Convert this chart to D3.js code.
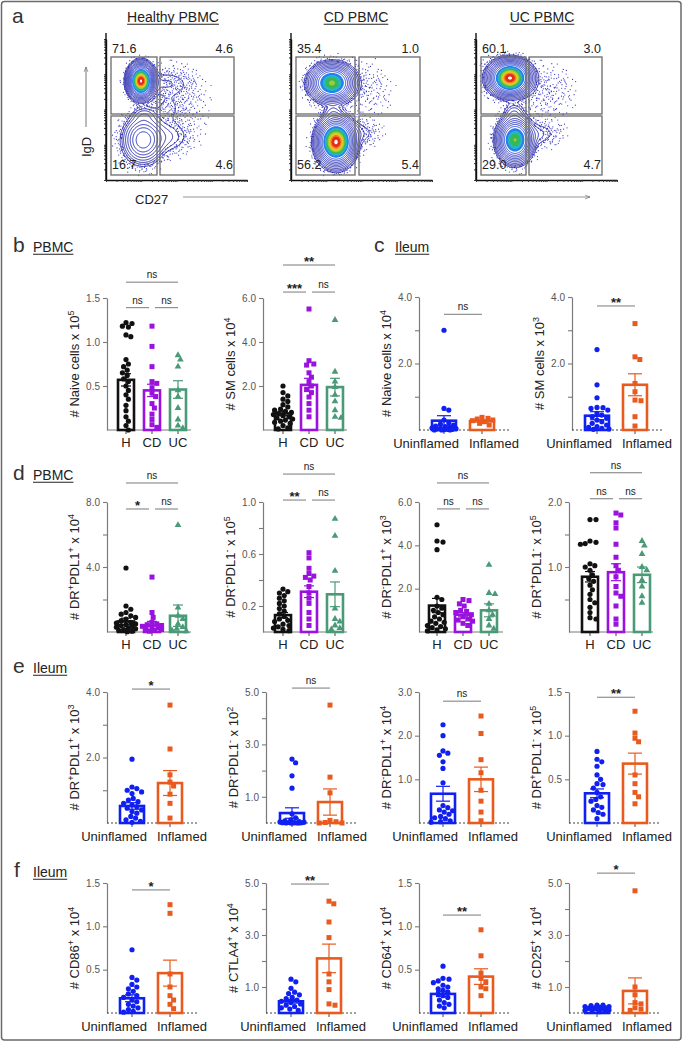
<!DOCTYPE html>
<html><head><meta charset="utf-8">
<script src="https://cdn.jsdelivr.net/npm/d3@7"></script>
<style>body{margin:0;background:#fff}svg{display:block}text{font-family:"Liberation Sans",Arial,sans-serif}</style>
</head><body><svg id="chart" width="684" height="1043"></svg>
<script>
// ---------------- DATA ----------------
const flowTitles = ["Healthy PBMC", "CD PBMC", "UC PBMC"];
const gatePercents = [["71.6","4.6","16.7","4.6"],["35.4","1.0","56.2","5.4"],["60.1","3.0","29.0","4.7"]];
// density populations [cx, cy, sx, sy, weight] (plot-relative units)
const healthyClusters = [[35,48,5.5,7.5,1.0],[38,82,7,5,0.02],[37,107,9.5,11,0.16],[58,50,16,8,0.013],[60,76,10,10,0.008],[60,104,13,9,0.02],[75,70,16,22,0.004]];
const cdClusters = [[41,50,9.5,8,0.64],[42,80,6,5,0.02],[45,109,8,10,1.0],[64,100,13,7,0.016],[75,55,16,16,0.004]];
const ucClusters = [[34,45,9,7.5,1.0],[38,80,6,6,0.025],[39,107,7.5,9.5,0.62],[60,101,13,7,0.016],[70,60,16,16,0.005]];
const levelFractions = [0.009,0.014,0.02,0.03,0.045,0.065,0.09,0.125,0.17,0.23,0.32,0.42,0.52,0.62,0.72,0.82,0.9,0.96];

const pbmcGroups = ["H","CD","UC"];
const ileumGroups = ["Uninflamed","Inflamed"];

const b1Points = [[1.22,1.21,1.18,1.17,1.08,1.06,0.80,0.75,0.72,0.68,0.65,0.62,0.58,0.55,0.50,0.45,0.40,0.35,0.28,0.22,0.15,0.10,0.05,0.0],
  [1.18,0.95,0.72,0.55,0.53,0.48,0.42,0.38,0.30,0.25,0.18,0.12,0.06,0.03],
  [0.85,0.80,0.72,0.45,0.38,0.25,0.12,0.05,0.02]];
const b1Mean = [0.57,0.45,0.46], b1Sem = [0.07,0.07,0.10];
const b2Points = [[2.0,1.7,1.55,1.4,1.3,1.15,1.05,0.95,0.9,0.85,0.8,0.75,0.7,0.65,0.6,0.55,0.5,0.45,0.4,0.35,0.3,0.2,0.1,0.05],
  [5.5,3.15,3.0,2.95,2.6,2.4,2.2,2.0,1.85,1.7,1.5,1.2,0.9,0.6],
  [5.0,2.65,2.2,1.95,1.6,1.3,0.9,0.6,0.55]];
const b2Mean = [0.75,2.05,1.95], b2Sem = [0.1,0.3,0.4];
const c1Points = [[3.0,0.65,0.6,0.3,0.22,0.18,0.15,0.12,0.1,0.08,0.06,0.05,0.04,0.03,0.02,0.02,0.01,0.0,0.0,0.0],
  [0.38,0.35,0.33,0.3,0.28,0.25,0.2,0.15]];
const c1Mean = [0.28,0.27], c1Sem = [0.15,0.03];
const c2Points = [[2.42,1.36,0.97,0.68,0.67,0.65,0.6,0.5,0.45,0.4,0.35,0.3,0.25,0.2,0.15,0.1,0.08,0.05,0.03,0.02],
  [3.2,2.2,2.12,1.4,1.15,0.9,0.88,0.4,0.12]];
const c2Mean = [0.43,1.36], c2Sem = [0.12,0.33];
const d1Points = [[3.94,1.6,1.4,1.2,1.1,1.0,0.9,0.8,0.7,0.6,0.55,0.5,0.45,0.4,0.35,0.3,0.25,0.2,0.15,0.1,0.05,0.02],
  [3.38,1.2,0.9,0.6,0.5,0.45,0.4,0.35,0.3,0.25,0.2,0.15,0.1,0.05],
  [6.58,1.5,1.0,0.8,0.5,0.3,0.2,0.1,0.05]];
const d1Mean = [0.65,0.4,1.0], d1Sem = [0.2,0.25,0.66];
const d2Points = [[0.33,0.31,0.30,0.28,0.26,0.24,0.22,0.20,0.18,0.16,0.14,0.12,0.10,0.09,0.08,0.06,0.05,0.04,0.03,0.02,0.01],
  [0.61,0.57,0.49,0.45,0.43,0.42,0.40,0.35,0.30,0.26,0.22,0.15,0.10,0.05],
  [0.87,0.74,0.47,0.18,0.10,0.08,0.05,0.03,0.02]];
const d2Mean = [0.13,0.31,0.29], d2Sem = [0.02,0.045,0.095];
const d3Points = [[4.95,4.2,4.15,3.8,1.6,1.5,1.2,1.1,1.0,0.9,0.8,0.7,0.6,0.5,0.45,0.4,0.3,0.25,0.2,0.15,0.1,0.05],
  [1.5,1.45,1.3,1.2,1.0,0.95,0.9,0.8,0.7,0.6,0.55,0.5,0.4,0.3],
  [3.1,1.8,1.75,1.3,1.0,0.8,0.6,0.3,0.15]];
const d3Mean = [1.22,0.8,1.0], d3Sem = [0.33,0.1,0.3];
const d4Points = [[1.73,1.73,1.4,1.38,1.36,1.35,1.05,1.02,1.0,0.95,0.88,0.82,0.78,0.72,0.65,0.58,0.5,0.45,0.38,0.3,0.22,0.2],
  [1.83,1.8,1.68,1.6,1.35,1.15,1.02,0.95,0.85,0.7,0.6,0.55,0.4,0.2,0.12],
  [1.4,1.33,1.2,1.0,0.95,0.8,0.7,0.55,0.45]];
const d4Mean = [0.85,0.92,0.88], d4Sem = [0.08,0.13,0.12];
const e1Points = [[1.95,1.1,1.05,1.0,0.95,0.9,0.75,0.7,0.65,0.6,0.55,0.5,0.45,0.4,0.35,0.3,0.2,0.15,0.1,0.05,0.02],
  [3.6,2.26,1.47,1.25,1.13,0.88,0.6,0.15]];
const e1Mean = [0.52,1.22], e1Sem = [0.1,0.38];
const e2Points = [[2.44,2.3,1.8,1.33,0.35,0.2,0.12,0.08,0.05,0.04,0.03,0.02,0.02,0.01,0.01,0.0,0.0,0.0,0.0,0.0],
  [4.5,1.75,1.15,0.1,0.05,0.02,0.0,0.0]];
const e2Mean = [0.38,0.8], e2Sem = [0.2,0.5];
const e3Points = [[2.25,2.0,1.65,1.6,1.55,1.4,1.25,0.92,0.4,0.35,0.3,0.28,0.25,0.2,0.15,0.12,0.1,0.05,0.03,0.02],
  [2.45,2.05,1.45,1.15,0.75,0.5,0.25,0.05]];
const e3Mean = [0.67,1.0], e3Sem = [0.17,0.28];
const e4Points = [[0.82,0.73,0.7,0.65,0.55,0.5,0.45,0.44,0.4,0.35,0.3,0.27,0.25,0.2,0.18,0.15,0.12,0.1,0.05],
  [1.28,1.03,0.97,0.93,0.55,0.45,0.35,0.3,0.22]];
const e4Mean = [0.34,0.68], e4Sem = [0.05,0.12];
const f1Points = [[0.73,0.41,0.38,0.33,0.3,0.28,0.25,0.22,0.2,0.18,0.15,0.13,0.1,0.08,0.06,0.04,0.02,0.01],
  [1.25,1.15,0.45,0.3,0.2,0.15,0.1,0.05]];
const f1Mean = [0.17,0.46], f1Sem = [0.04,0.15];
const f2Points = [[1.3,1.2,0.95,0.8,0.75,0.7,0.6,0.55,0.5,0.45,0.4,0.35,0.3,0.25,0.2,0.15,0.1],
  [4.3,4.2,3.5,2.9,1.5,1.2,0.9,0.35,0.3]];
const f2Mean = [0.45,2.1], f2Sem = [0.07,0.55];
const f3Points = [[0.54,0.4,0.39,0.37,0.35,0.32,0.3,0.28,0.26,0.24,0.22,0.2,0.18,0.15,0.12,0.1,0.08,0.06],
  [0.96,0.66,0.46,0.4,0.36,0.3,0.28,0.2]];
const f3Mean = [0.22,0.42], f3Sem = [0.03,0.09];
const f4Points = [[0.3,0.3,0.28,0.25,0.25,0.22,0.2,0.2,0.18,0.15,0.15,0.12,0.1,0.1,0.08,0.05],
  [4.7,1.0,0.7,0.4,0.35,0.2,0.15,0.1]];
const f4Mean = [0.15,0.85], f4Sem = [0.02,0.5];

const yLabels = {
  b1:"# Naive cells x 10^5", b2:"# SM cells x 10^4", c1:"# Naive cells x 10^4", c2:"# SM cells x 10^3",
  d1:"# DR^+^PDL1^+^ x 10^4", d2:"# DR^-^PDL1^-^ x 10^5", d3:"# DR^-^PDL1^+^ x 10^3", d4:"# DR^+^PDL1^-^ x 10^5",
  e1:"# DR^+^PDL1^+^ x 10^3", e2:"# DR^-^PDL1^-^ x 10^2", e3:"# DR^-^PDL1^+^ x 10^4", e4:"# DR^+^PDL1^-^ x 10^5",
  f1:"# CD86^+^ x 10^4", f2:"# CTLA4^+^ x 10^4", f3:"# CD64^+^ x 10^4", f4:"# CD25^+^ x 10^4"};
const tickLabels = {b1:[0.5,1.0,1.5], b2:[2,4,6], c1:[2,4], c2:[2,4], d1:[4,8], d2:[0.2,0.6,1.0], d3:[2,4,6], d4:[1,2],
  e1:[2,4], e2:[1,3,5], e3:[1,2,3], e4:[0.5,1,1.5], f1:[0.5,1,1.5], f2:[1,3,5], f3:[0.5,1,1.5], f4:[1,3,5]};
const minorTicks = {b1:[], b2:[], c1:[1,3], c2:[1,3], d1:[2,6], d2:[0.4,0.8], d3:[], d4:[0.5,1.5],
  e1:[1,3], e2:[2,4], e3:[], e4:[], f1:[], f2:[2,4], f3:[], f4:[2,4]};
const b1Sig = [["H","CD","ns"],["CD","UC","ns"],["H","UC","ns"]];
const b2Sig = [["H","CD","***"],["CD","UC","ns"],["H","UC","**"]];
const d1Sig = [["H","CD","*"],["CD","UC","ns"],["H","UC","ns"]];
const d2Sig = [["H","CD","**"],["CD","UC","ns"],["H","UC","ns"]];
const d3Sig = [["H","CD","ns"],["CD","UC","ns"],["H","UC","ns"]];
const d4Sig = [["H","CD","ns"],["CD","UC","ns"],["H","UC","ns"]];
const ileumSig = {c1:"ns", c2:"**", e1:"*", e2:"ns", e3:"ns", e4:"**", f1:"*", f2:"**", f3:"**", f4:"*"};

// ---------------- STYLE / LAYOUT ----------------
const groupColor = {H:"#111111", CD:"#9a12dd", UC:"#4a9a78", Uninflamed:"#1020f0", Inflamed:"#e85a1e"};
const groupShape = {H:"circle", CD:"square", UC:"triangle", Uninflamed:"circle", Inflamed:"square"};
const flowLayout = [{axisX:106, split:[51,54], right:128},{axisX:291, split:[64,68], right:129},{axisX:476, split:[50,53], right:126}];
const rowB = {y0:430, yTop:298}, rowD = {y0:632, yTop:502}, rowE = {y0:823, yTop:692}, rowF = {y0:1013, yTop:883};
const sigLevels = {b1:[1.39,1.39,1.68], b2:[6.27,6.27,7.5], c1:[3.48], c2:[3.73], d1:[7.57,7.57,9.17], d2:[1.015,1.015,1.215],
  d3:[5.68,5.68,6.88], d4:[2.05,2.05,2.45], e1:[4.09], e2:[5.15], e3:[2.79], e4:[1.44], f1:[1.42], f2:[4.96], f3:[1.13], f4:[5.38]};

const charts = [
  {id:"b1", pts:b1Points, mean:b1Mean, sem:b1Sem, groups:pbmcGroups, sig:b1Sig, axisX:107, pad:0, ...rowB},
  {id:"b2", pts:b2Points, mean:b2Mean, sem:b2Sem, groups:pbmcGroups, sig:b2Sig, axisX:263, pad:1, ...rowB},
  {id:"c1", pts:c1Points, mean:c1Mean, sem:c1Sem, groups:ileumGroups, axisX:419, pad:0, y0:430, yTop:297},
  {id:"c2", pts:c2Points, mean:c2Mean, sem:c2Sem, groups:ileumGroups, axisX:572, pad:0, y0:430, yTop:297},
  {id:"d1", pts:d1Points, mean:d1Mean, sem:d1Sem, groups:pbmcGroups, sig:d1Sig, axisX:107, pad:0, ...rowD},
  {id:"d2", pts:d2Points, mean:d2Mean, sem:d2Sem, groups:pbmcGroups, sig:d2Sig, axisX:263, pad:1, ...rowD},
  {id:"d3", pts:d3Points, mean:d3Mean, sem:d3Sem, groups:pbmcGroups, sig:d3Sig, axisX:419, pad:-1, ...rowD},
  {id:"d4", pts:d4Points, mean:d4Mean, sem:d4Sem, groups:pbmcGroups, sig:d4Sig, axisX:569, pad:2, ...rowD},
  {id:"e1", pts:e1Points, mean:e1Mean, sem:e1Sem, groups:ileumGroups, axisX:107, pad:0, ...rowE},
  {id:"e2", pts:e2Points, mean:e2Mean, sem:e2Sem, groups:ileumGroups, axisX:266, pad:1, ...rowE},
  {id:"e3", pts:e3Points, mean:e3Mean, sem:e3Sem, groups:ileumGroups, axisX:419, pad:-1, ...rowE},
  {id:"e4", pts:e4Points, mean:e4Mean, sem:e4Sem, groups:ileumGroups, axisX:569, pad:3, ...rowE},
  {id:"f1", pts:f1Points, mean:f1Mean, sem:f1Sem, groups:ileumGroups, axisX:107, pad:0, ...rowF},
  {id:"f2", pts:f2Points, mean:f2Mean, sem:f2Sem, groups:ileumGroups, axisX:266, pad:0, ...rowF},
  {id:"f3", pts:f3Points, mean:f3Mean, sem:f3Sem, groups:ileumGroups, axisX:419, pad:-1, ...rowF},
  {id:"f4", pts:f4Points, mean:f4Mean, sem:f4Sem, groups:ileumGroups, axisX:569, pad:3, ...rowF}
];

// ---------------- DRAW ----------------
const svg = d3.select("#chart");
const FONT = '"Liberation Sans", Arial, sans-serif';
svg.append("rect").attr("x",1.5).attr("y",1.5).attr("width",679.5).attr("height",1038.5).attr("rx",3)
  .attr("fill","none").attr("stroke","#6a6a6a").attr("stroke-width",1.5);

svg.append("defs").append("marker").attr("id","arr").attr("viewBox","0 0 10 10").attr("refX",9).attr("refY",5)
  .attr("markerWidth",6).attr("markerHeight",6).attr("orient","auto")
  .append("path").attr("d","M0,1.5 L9,5 L0,8.5").attr("fill","none").attr("stroke","#666").attr("stroke-width",1.2);

function txt(x, y, s, size, opts={}) {
  const t = svg.append("text").attr("x",x).attr("y",y).text(s).attr("font-size",size)
    .attr("fill",opts.fill||"#222").attr("text-anchor",opts.anchor||"start");
  if (opts.weight) t.attr("font-weight",opts.weight);
  if (opts.underline) {
    const w = t.node().getComputedTextLength();
    const x0 = opts.anchor==="middle" ? x-w/2 : x;
    svg.append("line").attr("x1",x0).attr("x2",x0+w).attr("y1",y+2.2).attr("y2",y+2.2)
      .attr("stroke",opts.fill||"#222").attr("stroke-width",1.1);
  }
  return t;
}

// panel letters and headings
const panelLetters = [["a",12,23],["b",13,252],["c",374,252],["d",13,480],["e",13,673],["f",14,877]];
panelLetters.forEach(([s,x,y]) => txt(x,y,s,21,{fill:"#333"}));
[["PBMC",33,252],["Ileum",395,252],["PBMC",33,480],["Ileum",33,673],["Ileum",33,877]]
  .forEach(([s,x,y]) => txt(x,y,s,14,{underline:true}));

// ---- panel a: flow contour plots ----
function halton(i, b) { let f = 1, r = 0; while (i > 0) { f /= b; r += f * (i % b); i = Math.floor(i / b); } return r; }
const levelColor = d3.scaleLinear()
  .domain([0,0.2,0.3,0.4,0.5,0.6,0.7,0.8,0.9,1])
  .range(["#18189c","#1e2ecc","#2a6ef0","#22b8e6","#22b460","#8cc83a","#e6d62a","#f29222","#e62a18","#e62a18"]);
const flowClusters = [healthyClusters, cdClusters, ucClusters];

flowLayout.forEach((L, idx) => {
  const W = 141, H = 147, top = 33;
  const cl = flowClusters[idx];
  const g = svg.append("g").attr("transform",`translate(${L.axisX},${top})`);
  const dens = (x, y) => d3.sum(cl, c => c[4]*Math.exp(-(((x-c[0])**2)/(2*c[2]*c[2]) + ((y-c[1])**2)/(2*c[3]*c[3]))));
  const vals = new Float64Array(W*H);
  for (let j = 0; j < H; j++) for (let i = 0; i < W; i++) vals[j*W+i] = dens(i+0.5, j+0.5);
  const mx = d3.max(vals);
  // outlier dots
  for (let i = 1; i < 5000; i++) {
    const x = halton(i,2)*W, y = halton(i,3)*H, u = halton(i,5);
    if (x < 4 || y > H-4 || y < 18) continue;
    const d = dens(x,y)/mx;
    if (d > 0.0006 && d < 0.015 && u < Math.min(1, d/0.006)*0.8)
      g.append("circle").attr("cx",x).attr("cy",y).attr("r",0.6).attr("fill","#3434c8");
  }
  const cs = d3.contours().size([W,H]).thresholds(levelFractions.map(f => f*mx))(vals);
  const path = d3.geoPath();
  cs.forEach((c, k) => {
    const f = levelFractions[k];
    g.append("path").attr("d", path(c))
      .attr("fill", f >= 0.95 ? "#fff" : (f >= 0.3 ? levelColor(f) : "none"))
      .attr("stroke", levelColor(f)).attr("stroke-width", f >= 0.3 ? 1.2 : 0.9);
  });
  // gates
  const gx = [[5, L.split[0]], [L.split[1], L.right]], gy = [[24,81],[83,142]];
  gy.forEach(yy => gx.forEach(xx => g.append("rect").attr("x",xx[0]).attr("y",yy[0])
    .attr("width",xx[1]-xx[0]).attr("height",yy[1]-yy[0]).attr("fill","none").attr("stroke","#6a6a6a").attr("stroke-width",1.3)));
  // axes (log-like ticks)
  const ys = d3.scaleLog().domain([10,1e5]).range([H, 6]);
  const xs = d3.scaleLog().domain([10,1e5]).range([0, W]);
  const ya = g.append("g").call(d3.axisLeft(ys).tickValues(ys.ticks()).tickSize(2).tickSizeOuter(0).tickFormat(""));
  const xa = g.append("g").attr("transform",`translate(0,${H})`).call(d3.axisBottom(xs).tickValues(xs.ticks()).tickSize(2).tickSizeOuter(0).tickFormat(""));
  [ya, xa].forEach(a => { a.select(".domain").attr("stroke","#111").attr("stroke-width",1.4); a.selectAll(".tick line").attr("stroke","#333"); });
  g.append("line").attr("x1",0).attr("x2",0).attr("y1",0).attr("y2",H).attr("stroke","#111").attr("stroke-width",1.4);
  // gate labels
  const gp = gatePercents[idx];
  const lt = (x,y,s,a) => g.append("text").attr("x",x).attr("y",y).attr("text-anchor",a).attr("font-size",12.5).attr("fill","#222").text(s);
  lt(6,20,gp[0],"start"); lt(L.right-1,20,gp[1],"end"); lt(6,136,gp[2],"start"); lt(L.right-1,136,gp[3],"end");
  // title
  txt(L.axisX + (idx===0?67:idx===1?65:66), 22, flowTitles[idx], 14, {anchor:"middle", underline:true});
});
// flow axis labels
svg.append("text").attr("transform","translate(91,147) rotate(-90)").attr("text-anchor","middle").attr("font-size",13).attr("fill","#222").text("IgD");
svg.append("line").attr("x1",86).attr("x2",86).attr("y1",127).attr("y2",67).attr("stroke","#666").attr("stroke-width",0.9).attr("marker-end","url(#arr)");
txt(135, 204, "CD27", 13);
svg.append("line").attr("x1",183).attr("x2",590).attr("y1",197).attr("y2",197).attr("stroke","#888").attr("stroke-width",0.9).attr("marker-end","url(#arr)");

// ---- bar + scatter charts ----
function swarm(vals, cx, y, r, maxOff) {
  const out = new Array(vals.length);
  const placed = [];
  const order = vals.map((v,i) => i).sort((a,b) => vals[b]-vals[a]);
  for (const i of order) {
    const py = y(vals[i]);
    let best = null, bestD = -1;
    for (let k = 0; k < 80; k++) {
      const off = (k % 2 === 1 ? 1 : -1) * Math.ceil(k/2) * 1.2;
      if (Math.abs(off) > maxOff) break;
      const tx = cx + off;
      const md = placed.length ? d3.min(placed, p => Math.hypot(p.x-tx, p.y-py)) : 99;
      if (md >= 2*r) { best = tx; bestD = 99; break; }
      if (md > bestD) { bestD = md; best = tx; }
    }
    const p = {x: best, y: py};
    placed.push(p); out[i] = p;
  }
  return out;
}

function yLabel(g, x, y, s) {
  const t = g.append("text").attr("transform",`translate(${x},${y}) rotate(-90)`).attr("text-anchor","middle")
    .attr("font-size",13).attr("fill","#222");
  const parts = s.split("^");
  parts.forEach((p, i) => {
    if (!p) return;
    const sup = i % 2 === 1;
    const ts = t.append("tspan").text(p).attr("font-size", sup ? 9 : 13);
    if (sup) ts.attr("dy", -5.5);
    else if (i > 0) ts.attr("dy", 5.5);
  });
}

charts.forEach(ch => {
  const two = ch.groups.length === 2;
  const g = svg.append("g");
  const max = d3.max(tickLabels[ch.id]);
  const y = d3.scaleLinear().domain([0, max]).range([ch.y0, ch.yTop]);
  const x = d3.scalePoint().domain(ch.groups)
    .range(two ? [ch.axisX+25+ch.pad, ch.axisX+63+ch.pad] : [ch.axisX+19+ch.pad, ch.axisX+71+ch.pad]);
  const bw = two ? 24 : 16;
  const labs = tickLabels[ch.id];
  // y axis
  const ay = g.append("g").attr("transform",`translate(${ch.axisX},0)`)
    .call(d3.axisLeft(y).tickValues(labs.concat(minorTicks[ch.id])).tickSize(4).tickSizeOuter(0)
      .tickFormat(v => labs.includes(v) ? d3.format(".1f")(v) : ""));
  ay.attr("font-family", FONT);
  ay.select(".domain").attr("stroke","#7a7a7a").attr("stroke-width",1.2);
  ay.selectAll(".tick line").attr("stroke","#7a7a7a").attr("stroke-width",1.1);
  ay.selectAll(".tick text").attr("font-size",10).attr("fill","#555");
  // x axis
  const xEnd = ch.axisX + (two ? 91 : 84);
  g.append("line").attr("x1",ch.axisX).attr("x2",xEnd).attr("y1",ch.y0).attr("y2",ch.y0)
    .attr("stroke", two ? "#444" : "#7a7a7a").attr("stroke-width", 1.2).attr("stroke-dasharray", two ? "2,2" : null);
  ch.groups.forEach(gr => g.append("line").attr("x1",x(gr)).attr("x2",x(gr)).attr("y1",ch.y0).attr("y2",ch.y0+4)
    .attr("stroke","#555").attr("stroke-width",1.1));
  // category labels
  if (two) {
    const mid = (x(ch.groups[0]) + x(ch.groups[1]))/2;
    g.append("text").attr("x",mid-4).attr("y",ch.y0+18).attr("text-anchor","end").attr("font-size",13).attr("fill","#222").text(ch.groups[0]);
    g.append("text").attr("x",mid+6).attr("y",ch.y0+18).attr("text-anchor","start").attr("font-size",13).attr("fill","#222").text(ch.groups[1]);
  } else {
    ch.groups.forEach(gr => g.append("text").attr("x",x(gr)).attr("y",ch.y0+17).attr("text-anchor","middle")
      .attr("font-size",13).attr("fill","#222").text(gr));
  }
  // bars
  ch.groups.forEach((gr, i) => {
    g.append("rect").attr("x",x(gr)-bw/2).attr("y",y(ch.mean[i])).attr("width",bw).attr("height",ch.y0-y(ch.mean[i]))
      .attr("fill","none").attr("stroke",groupColor[gr]).attr("stroke-width",2.6);
  });
  // points
  ch.groups.forEach((gr, i) => {
    const pos = swarm(ch.pts[i], x(gr), y, 2.5, two ? 13 : 10);
    const col = groupColor[gr], sh = groupShape[gr];
    pos.forEach(p => {
      if (sh === "circle") g.append("circle").attr("cx",p.x).attr("cy",p.y).attr("r",2.6).attr("fill",col);
      else if (sh === "square") g.append("rect").attr("x",p.x-2.5).attr("y",p.y-2.5).attr("width",5).attr("height",5).attr("fill",col);
      else g.append("path").attr("d",d3.symbol(d3.symbolTriangle, 20)()).attr("transform",`translate(${p.x},${p.y})`).attr("fill",col);
    });
  });
  // error bars
  ch.groups.forEach((gr, i) => {
    const col = groupColor[gr], cx = x(gr), cw = two ? 7 : 5;
    const yt = y(ch.mean[i]+ch.sem[i]), yb = y(Math.max(0, ch.mean[i]-ch.sem[i]));
    g.append("line").attr("x1",cx).attr("x2",cx).attr("y1",yt).attr("y2",yb).attr("stroke",col).attr("stroke-width",1.2);
    [yt, yb].forEach(yy => g.append("line").attr("x1",cx-cw).attr("x2",cx+cw).attr("y1",yy).attr("y2",yy).attr("stroke",col).attr("stroke-width",1.2));
  });
  // significance
  const sigs = two ? [[ch.groups[0], ch.groups[1], ileumSig[ch.id]]] : ch.sig;
  sigs.forEach((s, k) => {
    const ly = y(sigLevels[ch.id][k]);
    let x1 = x(s[0]), x2 = x(s[1]);
    if (!two) { if (s[0] === "CD") x1 += 3; if (s[1] === "CD") x2 -= 3; }
    g.append("line").attr("x1",x1).attr("x2",x2).attr("y1",ly).attr("y2",ly).attr("stroke","#7a7a7a").attr("stroke-width",1);
    const star = s[2] !== "ns";
    g.append("text").attr("x",(x1+x2)/2).attr("y", star ? ly+1 : ly-4).attr("text-anchor","middle")
      .attr("font-size", star ? 13 : 10).attr("font-weight", star ? "bold" : null).attr("fill","#222").text(s[2]);
  });
  // y label
  yLabel(g, ch.axisX-28, (ch.y0+ch.yTop)/2, yLabels[ch.id]);
});
</script></body></html>
